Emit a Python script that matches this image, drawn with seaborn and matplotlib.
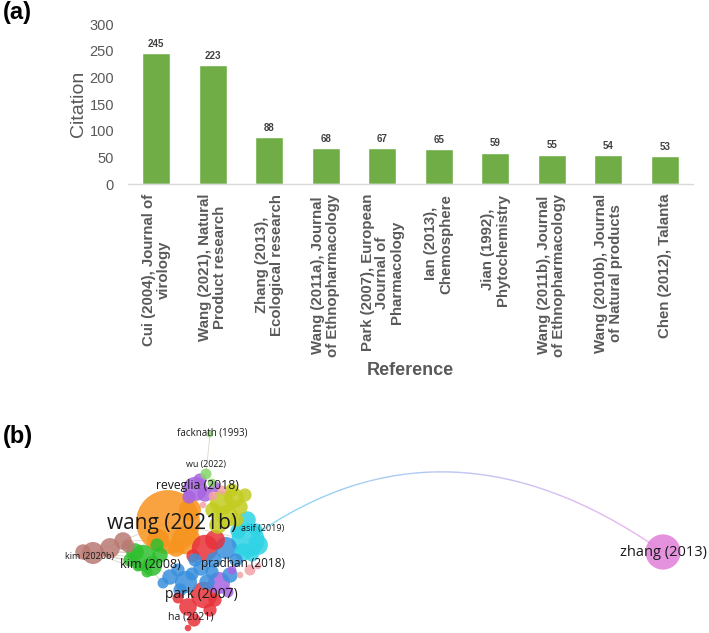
import numpy as np
import matplotlib
matplotlib.use("Agg")
import matplotlib.pyplot as plt
from matplotlib.collections import LineCollection
import matplotlib.colors as mcolors
import seaborn as sns

# ---------------- data: panel (a) ----------------
references = [
    "Cui (2004), Journal of\nvirology",
    "Wang (2021), Natural\nProduct research",
    "Zhang (2013),\nEcological research",
    "Wang (2011a), Journal\nof Ethnopharmacology",
    "Park (2007), European\nJournal of\nPharmacology",
    "Ian (2013),\nChemosphere",
    "Jian (1992),\nPhytochemistry",
    "Wang (2011b), Journal\nof Ethnopharmacology",
    "Wang (2010b), Journal\nof Natural products",
    "Chen (2012), Talanta",
]
citations = [245, 223, 88, 68, 67, 65, 59, 55, 54, 53]
y_ticks = [0, 50, 100, 150, 200, 250, 300]

# ---------------- data: panel (b) network (layout coords) ----------------
palette = {
    "orange": "#f7931e", "red": "#e8313a", "green": "#2fbf2f", "blue": "#3a8fdc",
    "yellow": "#c3cc1f", "purple": "#a864e0", "cyan": "#2fd3e6", "brown": "#b97a72",
    "pink": "#f4a3a8", "lgreen": "#86d66b", "magenta": "#e07fd8",
}
node_x = [83, 93, 110, 123, 128,
          143, 135, 152, 160, 147, 138, 130, 157,
          168, 186, 176, 158, 190,
          195, 205, 189, 215, 200,
          206, 212, 210,
          222, 234, 227, 240, 213, 232, 245, 218, 237,
          213, 203, 222,
          248, 247, 238, 256, 252, 258, 243,
          205, 193, 215,
          226, 214, 236, 201, 170, 186, 207, 163, 178, 192, 230, 195, 180, 212,
          219, 232, 228,
          204, 188, 194, 188, 215, 178, 210,
          250, 258, 240,
          663]
node_y = [552, 553, 548, 541, 546,
          558, 552, 566, 555, 572, 566, 560, 545,
          522, 540, 548, 540, 510,
          489, 494, 497, 487, 480,
          474, 483, 434,
          503, 498, 516, 507, 510, 490, 495, 525, 520,
          496, 505, 490,
          540, 520, 531, 530, 555, 545, 552,
          548, 556, 540,
          548, 560, 560, 568, 577, 582, 582, 583, 570, 574, 575, 560, 590, 572,
          583, 570, 592,
          595, 607, 620, 628, 600, 598, 610,
          570, 566, 575,
          552]
node_r = [7, 10, 9, 8, 6,
          12, 8, 9, 7, 5, 5, 6, 6,
          29, 13, 8, 10, 10,
          11, 7, 6, 5, 6,
          5, 4, 3,
          11, 9, 10, 7, 7, 6, 6, 8, 6,
          4, 3, 4,
          15, 8, 7, 6, 6, 9, 8,
          12, 6, 9,
          10, 7, 6, 7, 7, 10, 7, 5, 6, 6, 7, 6, 6, 6,
          10, 4, 5,
          12, 8, 6, 3, 6, 5, 6,
          5, 3, 3,
          16]
node_cluster = (["brown"] * 5 + ["green"] * 8 + ["orange"] * 5 + ["purple"] * 5 +
                ["lgreen"] * 3 + ["yellow"] * 9 + ["pink"] * 3 + ["cyan"] * 7 +
                ["red"] * 3 + ["blue"] * 14 + ["purple"] * 3 + ["red"] * 7 +
                ["pink"] * 3 + ["magenta"])
# faint edges (node index pairs)
edges = [(0, 5), (1, 13), (2, 5), (3, 14), (1, 7), (0, 6), (25, 23), (23, 18),
         (5, 52), (6, 55), (13, 38), (18, 27), (0, 11), (1, 9)]
long_edge = (38, 75)
long_edge_peak = (450, 472)

labels_txt = ["wang (2021b)", "reveglia (2018)", "facknath (1993)", "wu (2022)",
              "asif (2019)", "kim (2020b)", "kim (2008)", "pradhan (2018)",
              "park (2007)", "ha (2021)", "zhang (2013)"]
labels_x = [172, 197, 212, 206, 263, 90, 150, 243, 201, 191, 663]
labels_y = [524, 486, 433, 464, 528, 556, 564, 564, 595, 617, 552]
labels_size = [15, 8.8, 7.0, 6.4, 6.5, 6.5, 9.0, 8.5, 10.0, 7.6, 10.5]

# ---------------- figure ----------------
sns.set_theme(style="white")
plt.rcParams["font.family"] = ["Liberation Sans", "DejaVu Sans"]

W, H = 709, 633
fig = plt.figure(figsize=(W / 100, H / 100), dpi=100)

# panel (a)
ax = fig.add_axes([128 / W, 1 - 184 / H, (693 - 128) / W, (184 - 24) / H])
sns.barplot(x=list(range(len(references))), y=citations, color="#70ad47",
            width=0.5, saturation=1, ax=ax)
ax.set_xlim(-0.5, len(references) - 0.5)
ax.set_ylim(0, 300)
ax.set_yticks(y_ticks)
ax.set_yticklabels([str(v) for v in y_ticks], fontsize=10.5, color="#595959")
ax.set_xticks(range(len(references)))
ax.set_xticklabels(references, rotation=90, fontsize=10.8, fontweight="bold",
                   color="#595959", ha="center", va="top", multialignment="center",
                   linespacing=1.05)
ax.tick_params(axis="y", length=0, pad=10)
ax.tick_params(axis="x", length=0, pad=7)
for s in ["top", "right", "left"]:
    ax.spines[s].set_visible(False)
ax.spines["bottom"].set_color("#d9d9d9")
ax.spines["bottom"].set_linewidth(1)
ax.set_ylabel("Citation", fontsize=14, color="#595959", labelpad=2)
ax.set_xlabel("Reference", fontsize=13, fontweight="bold", color="#595959", labelpad=4)
ax.bar_label(ax.containers[0], padding=3, fontsize=7, fontweight="bold", color="#404040")

fig.text(3 / W, 1 - 13 / H, "(a)", fontsize=17, fontweight="bold", va="center", ha="left",
         color="black")
fig.text(3 / W, 1 - 437 / H, "(b)", fontsize=17, fontweight="bold", va="center", ha="left",
         color="black")

# panel (b)
axn = fig.add_axes([0, 0, 1, 233 / H])
axn.set_xlim(0, W)
axn.set_ylim(633, 400)
axn.axis("off")

nx = np.array(node_x, float)
ny = np.array(node_y, float)
nr = np.array(node_r, float) * 1.1

# faint edges
segs = [[(nx[a], ny[a]), (nx[b], ny[b])] for a, b in edges]
axn.add_collection(LineCollection(segs, colors="#c9b8a8", linewidths=0.6, alpha=0.6, zorder=1))

# long curved edge (quadratic bezier through the peak)
a, b = long_edge
p0 = np.array([nx[a], ny[a]])
p2 = np.array([nx[b], ny[b]])
pk = np.array(long_edge_peak, float)
p1 = 2 * pk - (p0 + p2) / 2
t = np.linspace(0, 1, 200)[:, None]
curve = (1 - t) ** 2 * p0 + 2 * (1 - t) * t * p1 + t ** 2 * p2
cseg = np.stack([curve[:-1], curve[1:]], axis=1)
c0 = np.array(mcolors.to_rgb("#7fd6f2"))
c1 = np.array(mcolors.to_rgb("#efb0ef"))
cols = [(1 - s) * c0 + s * c1 for s in np.linspace(0, 1, len(cseg))]
axn.add_collection(LineCollection(cseg, colors=cols, linewidths=1.0, zorder=1))

# nodes
sizes = (2 * nr * 72 / 100) ** 2
colors = [palette[c] for c in node_cluster]
order = np.argsort(-nr, kind="stable")
axn.scatter(nx[order], ny[order], s=sizes[order], c=[colors[i] for i in order],
            alpha=0.85, linewidths=0, zorder=2)

for txt, x, y, fs in zip(labels_txt, labels_x, labels_y, labels_size):
    axn.text(x, y, txt, fontsize=fs, ha="center", va="center", color="#1a1a1a",
             family=["Open Sans", "DejaVu Sans"], zorder=3)

fig.savefig("out.png", dpi=100)
